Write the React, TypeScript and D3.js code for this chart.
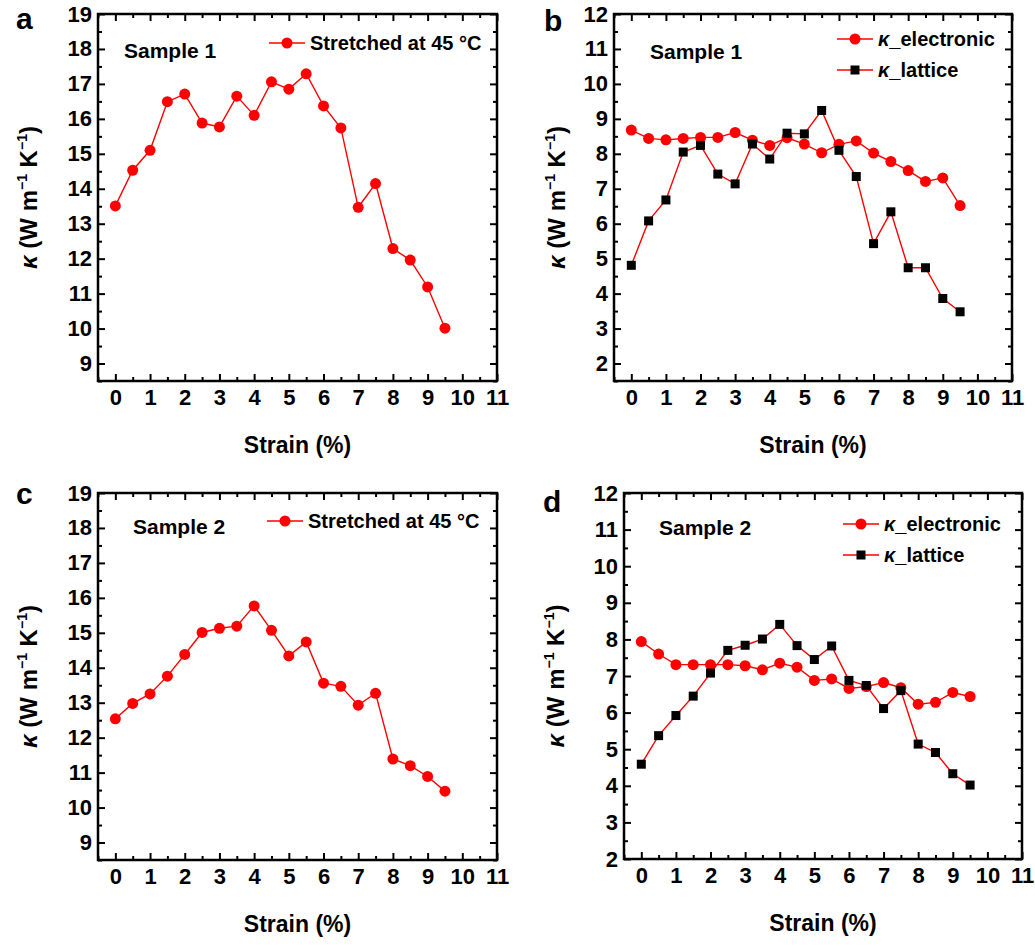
import React, { useEffect, useRef } from 'react';
import * as d3 from 'd3';

// data
const strain = [0, 0.5, 1, 1.5, 2, 2.5, 3, 3.5, 4, 4.5, 5, 5.5, 6, 6.5, 7, 7.5, 8, 8.5, 9, 9.5];

const kappaSample1 = [13.51, 14.53, 15.1, 16.49, 16.71, 15.88, 15.77, 16.65, 16.1, 17.06, 16.85, 17.29, 16.37, 15.74, 13.47, 14.15, 12.29, 11.96, 11.19, 10.01];
const elecSample1 = [8.68, 8.44, 8.4, 8.44, 8.47, 8.47, 8.61, 8.39, 8.24, 8.46, 8.28, 8.03, 8.27, 8.37, 8.02, 7.78, 7.52, 7.21, 7.31, 6.52];
const latSample1 = [4.81, 6.08, 6.68, 8.05, 8.24, 7.42, 7.14, 8.28, 7.85, 8.59, 8.57, 9.24, 8.1, 7.35, 5.43, 6.34, 4.74, 4.74, 3.86, 3.48];

const kappaSample2 = [12.54, 12.98, 13.25, 13.76, 14.38, 15.01, 15.13, 15.19, 15.77, 15.07, 14.34, 14.74, 13.56, 13.47, 12.93, 13.27, 11.39, 11.2, 10.89, 10.47];
const elecSample2 = [7.94, 7.6, 7.31, 7.31, 7.31, 7.31, 7.28, 7.17, 7.35, 7.24, 6.88, 6.92, 6.66, 6.71, 6.82, 6.68, 6.23, 6.28, 6.55, 6.44];
const latSample2 = [4.59, 5.37, 5.92, 6.45, 7.08, 7.7, 7.84, 8.01, 8.41, 7.83, 7.45, 7.82, 6.88, 6.74, 6.11, 6.6, 5.14, 4.91, 4.33, 4.02];

const xTicks = [0, 1, 2, 3, 4, 5, 6, 7, 8, 9, 10, 11];
const yTicksTotal = [9, 10, 11, 12, 13, 14, 15, 16, 17, 18, 19];
const yTicksParts = [2, 3, 4, 5, 6, 7, 8, 9, 10, 11, 12];

const FONT = '"Liberation Sans", Arial, sans-serif';

const panels = [
  { letter: 'a', lx: 16, ly: 29, x0: 98, x1: 497, y0: 14, y1: 381, yDomain: [8.5, 19], yTicks: yTicksTotal, ylabX: 28,
    sample: 'Sample 1', sx: 124, sy: 58, legX: 287, legY: 43,
    series: [{ name: 'Stretched at 45 °C', values: kappaSample1, marker: 'circle' }] },
  { letter: 'b', lx: 544, ly: 31, x0: 614, x1: 1012, y0: 14, y1: 381, yDomain: [1.5, 12], yTicks: yTicksParts, ylabX: 556,
    sample: 'Sample 1', sx: 650, sy: 59, legX: 855, legY: 39,
    series: [
      { name: '_electronic', kappa: true, values: elecSample1, marker: 'circle' },
      { name: '_lattice', kappa: true, values: latSample1, marker: 'square' }] },
  { letter: 'c', lx: 16, ly: 504, x0: 98, x1: 497, y0: 493, y1: 860, yDomain: [8.5, 19], yTicks: yTicksTotal, ylabX: 28,
    sample: 'Sample 2', sx: 133, sy: 534, legX: 285, legY: 521,
    series: [{ name: 'Stretched at 45 °C', values: kappaSample2, marker: 'circle' }] },
  { letter: 'd', lx: 543, ly: 512, x0: 624, x1: 1022, y0: 493, y1: 859, yDomain: [2, 12], yTicks: yTicksParts, ylabX: 555,
    sample: 'Sample 2', sx: 659, sy: 535, legX: 861, legY: 524,
    series: [
      { name: '_electronic', kappa: true, values: elecSample2, marker: 'circle' },
      { name: '_lattice', kappa: true, values: latSample2, marker: 'square' }] },
];

const drawMarker = (g, type, x, y) => {
  if (type === 'circle') {
    g.append('circle').attr('cx', x).attr('cy', y).attr('r', 5.5).attr('fill', '#ff0000');
  } else {
    g.append('rect').attr('x', x - 4.5).attr('y', y - 4.5).attr('width', 9).attr('height', 9).attr('fill', '#000');
  }
};

const App = () => {
  const svgRef = useRef(null);

  useEffect(() => {
    const svg = d3.select(svgRef.current);
    svg.selectAll('*').remove();

    panels.forEach(p => {
      const g = svg.append('g');
      const x = d3.scaleLinear().domain([-0.5, 11]).range([p.x0, p.x1]);
      const y = d3.scaleLinear().domain(p.yDomain).range([p.y1, p.y0]);

      const xMinor = d3.range(-0.5, 11.01, 0.5).filter(v => !Number.isInteger(v));
      const yMinor = d3.range(p.yDomain[0], p.yDomain[1] + 0.01, 0.5).filter(v => !Number.isInteger(v));

      // ticks on four sides, pointing inwards
      const axes = [
        { ax: d3.axisBottom(x), t: `translate(0,${p.y1})`, major: xTicks, minor: xMinor, labels: true, pad: 8 },
        { ax: d3.axisTop(x), t: `translate(0,${p.y0})`, major: xTicks, minor: xMinor, labels: false, pad: 6 },
        { ax: d3.axisLeft(y), t: `translate(${p.x0},0)`, major: p.yTicks, minor: yMinor, labels: true, pad: 6 },
        { ax: d3.axisRight(y), t: `translate(${p.x1},0)`, major: p.yTicks, minor: yMinor, labels: false, pad: 6 },
      ];
      axes.forEach(a => {
        const gm = g.append('g').attr('transform', a.t)
          .call(a.ax.tickValues(a.major).tickSize(-7).tickPadding(a.pad)
            .tickFormat(a.labels ? d3.format('d') : () => ''));
        gm.select('.domain').remove();
        gm.selectAll('line').attr('stroke', '#000').attr('stroke-width', 2);
        gm.selectAll('text').attr('font-family', FONT).attr('font-weight', 'bold')
          .attr('font-size', 22).attr('fill', '#000');
        const gn = g.append('g').attr('transform', a.t)
          .call(a.ax.tickValues(a.minor).tickSize(-4).tickFormat(() => ''));
        gn.select('.domain').remove();
        gn.selectAll('line').attr('stroke', '#000').attr('stroke-width', 2);
      });

      g.append('rect')
        .attr('x', p.x0).attr('y', p.y0)
        .attr('width', p.x1 - p.x0).attr('height', p.y1 - p.y0)
        .attr('fill', 'none').attr('stroke', '#000').attr('stroke-width', 2.5);

      // series
      const line = d3.line().x((d, i) => x(strain[i])).y(d => y(d));
      p.series.forEach(s => {
        g.append('path').datum(s.values)
          .attr('d', line).attr('fill', 'none')
          .attr('stroke', '#ff0000').attr('stroke-width', 1.4);
        s.values.forEach((v, i) => drawMarker(g, s.marker, x(strain[i]), y(v)));
      });

      // legend
      p.series.forEach((s, i) => {
        const ly = p.legY + i * 31;
        g.append('line').attr('x1', p.legX - 18).attr('x2', p.legX + 18)
          .attr('y1', ly).attr('y2', ly).attr('stroke', '#ff0000').attr('stroke-width', 1.4);
        drawMarker(g, s.marker, p.legX, ly);
        const t = g.append('text').attr('x', p.legX + 23).attr('y', ly + 7)
          .attr('font-family', FONT).attr('font-weight', 'bold').attr('font-size', 20).attr('fill', '#000');
        if (s.kappa) t.append('tspan').attr('font-style', 'italic').text('κ');
        t.append('tspan').text(s.name);
      });

      // sample label
      g.append('text').attr('x', p.sx).attr('y', p.sy)
        .attr('font-family', FONT).attr('font-weight', 'bold').attr('font-size', 21).text(p.sample);

      // panel letter
      g.append('text').attr('x', p.lx).attr('y', p.ly)
        .attr('font-family', FONT).attr('font-weight', 'bold').attr('font-size', 30).text(p.letter);

      // x title
      g.append('text').attr('x', (p.x0 + p.x1) / 2).attr('y', p.y1 + 72)
        .attr('text-anchor', 'middle')
        .attr('font-family', FONT).attr('font-weight', 'bold').attr('font-size', 23).text('Strain (%)');

      // y title
      const yt = g.append('text')
        .attr('transform', `translate(${p.ylabX + 9},${(p.y0 + p.y1) / 2}) rotate(-90)`)
        .attr('text-anchor', 'middle')
        .attr('font-family', FONT).attr('font-weight', 'bold').attr('font-size', 24);
      yt.append('tspan').attr('font-style', 'italic').text('κ');
      yt.append('tspan').text(' (W m');
      yt.append('tspan').attr('font-size', 14).attr('dy', -10).text('−1');
      yt.append('tspan').attr('dy', 10).text(' K');
      yt.append('tspan').attr('font-size', 14).attr('dy', -10).text('−1');
      yt.append('tspan').attr('dy', 10).text(')');
    });
  }, []);

  return (
    <svg ref={svgRef} width={1035} height={946}
      style={{ position: 'absolute', left: 0, top: 0, background: '#fff' }}></svg>
  );
};

export default App;
